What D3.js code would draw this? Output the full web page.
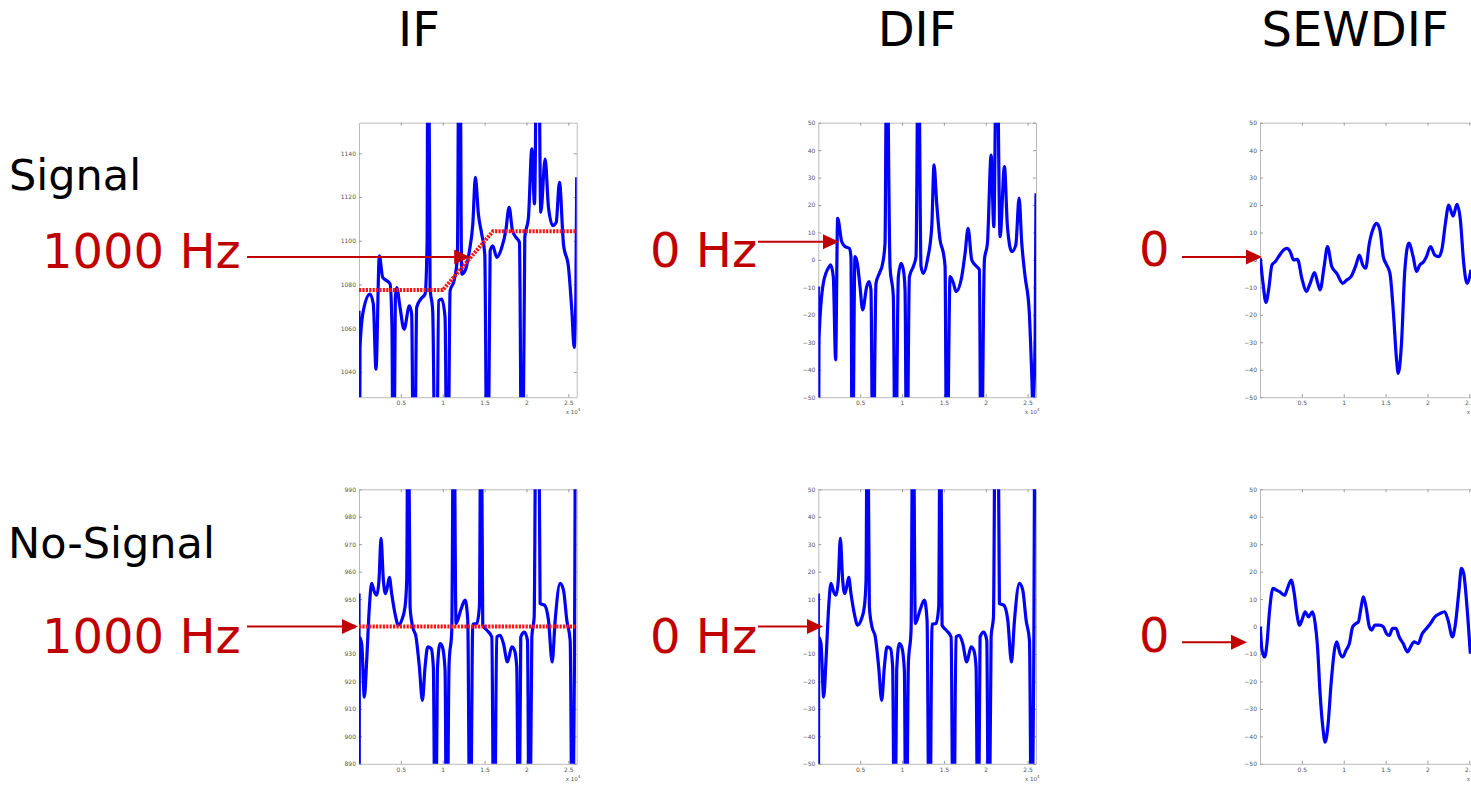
<!DOCTYPE html>
<html><head><meta charset="utf-8">
<script src="https://cdn.jsdelivr.net/npm/d3@7"></script>
<style>
body{margin:0;background:#fff;overflow:hidden;}
svg{display:block;font-family:"DejaVu Sans",Verdana,sans-serif;}
</style></head><body>
<svg id="chart" width="1471" height="789"></svg>
<script>
// ---------------- data (x in units of 10^4 samples) ----------------
const colTitles = ["IF", "DIF", "SEWDIF"];
const rowLabels = ["Signal", "No-Signal"];

const xDomain = [0, 2.6];
const xTickValues = [0.5, 1, 1.5, 2, 2.5];
const ifSignalDomain = [1028.4, 1154];
const ifSignalTicks = [1040, 1060, 1080, 1100, 1120, 1140];
const ifNoSignalDomain = [890, 990];
const ifNoSignalTicks = [890, 900, 910, 920, 930, 940, 950, 960, 970, 980, 990];
const difDomain = [-50, 50];
const difTicks = [-50, -40, -30, -20, -10, 0, 10, 20, 30, 40, 50];

const ifSignal = [[0,1068],[0.004,950],[0.012,1051],[0.052,1068],[0.131,1075.6],[0.171,1071],[0.203,1041.2],[0.243,1093.1],[0.283,1083.2],[0.331,1081.7],[0.371,1080.2],[0.394,1060.3],[0.410,950],[0.434,1074],[0.450,1078.6],[0.490,1069.5],[0.538,1059.5],[0.602,1070.2],[0.629,1066.4],[0.657,950],[0.689,1069.5],[0.737,1073.3],[0.789,1075.6],[0.813,1098.5],[0.825,1250],[0.849,1078.6],[0.880,1068],[0.920,950],[0.952,1072.5],[0.988,1073.3],[1.028,1064.9],[1.056,950],[1.088,1077.1],[1.135,1081.7],[1.175,1092.4],[1.199,1250],[1.227,1084.7],[1.267,1086.3],[1.319,1095.4],[1.359,1107.6],[1.390,1129],[1.426,1112.2],[1.466,1103],[1.502,1093.9],[1.534,950],[1.566,1095.4],[1.598,1097.7],[1.645,1092.4],[1.705,1096.9],[1.753,1104.6],[1.793,1115.3],[1.833,1104.6],[1.876,1101.5],[1.916,1099.2],[1.948,950],[1.980,1101.5],[2.024,1110.7],[2.064,1142],[2.096,1116.8],[2.135,1250],[2.171,1113],[2.223,1137.4],[2.263,1115.3],[2.315,1106.9],[2.355,1108.4],[2.394,1126.7],[2.442,1098.5],[2.502,1087.8],[2.542,1068],[2.570,1051.1],[2.590,1074],[2.600,1129]];

const refSignal = [[0,1077.4],[1.0,1077.4],[1.6,1104.3],[2.6,1104.3]];

const difSignal = [[0,-9.7],[0.003,-90],[0.008,-29.1],[0.060,-8.5],[0.131,-2.4],[0.147,-1.8],[0.179,-6.1],[0.207,-36.4],[0.231,15.2],[0.279,6.7],[0.319,4.9],[0.371,4.2],[0.390,1.2],[0.406,-90],[0.438,1.2],[0.466,-1.2],[0.498,-9.7],[0.530,-18.2],[0.578,-9.7],[0.606,-7.9],[0.629,-10.9],[0.653,-90],[0.689,-8.5],[0.729,-4.9],[0.769,-1.2],[0.797,6.1],[0.817,90],[0.857,-2.4],[0.896,-13.3],[0.920,-90],[0.956,-6.1],[0.988,-1.2],[1.016,-3.6],[1.036,-10.9],[1.056,-90],[1.088,-6.1],[1.135,-2.4],[1.167,1.2],[1.195,90],[1.227,-2.4],[1.255,-4.9],[1.303,0],[1.355,12.1],[1.382,34.6],[1.414,20.6],[1.454,7.3],[1.494,2.4],[1.514,-2.4],[1.534,-90],[1.574,-6.1],[1.614,-8.5],[1.645,-11.5],[1.713,-6.1],[1.753,2.4],[1.789,11.5],[1.833,0],[1.892,-2.4],[1.924,-3.6],[1.944,-90],[1.984,0],[2.020,6.1],[2.064,38.2],[2.096,12.1],[2.131,90],[2.171,8.5],[2.223,34],[2.259,12.1],[2.311,3],[2.359,5.5],[2.398,22.5],[2.430,6.1],[2.470,-6.1],[2.518,-18.2],[2.550,-42.5],[2.562,-53],[2.590,-28.2],[2.600,24.3]];

const sewdifSignal = [[0.004,0.6],[0.036,-8.5],[0.071,-15.5],[0.103,-10.9],[0.143,-1.8],[0.183,-0.6],[0.222,1.2],[0.282,3.6],[0.321,4.2],[0.361,3],[0.401,0],[0.448,0.2],[0.5,-6.7],[0.552,-11.5],[0.599,-8.5],[0.651,-4.6],[0.690,-8.5],[0.718,-10.9],[0.766,-2.4],[0.806,4.9],[0.857,-2.4],[0.917,-4.9],[0.988,-8.5],[1.036,-7.3],[1.087,-6.1],[1.147,-1.8],[1.187,1.8],[1.226,-1.8],[1.262,-3],[1.306,6.1],[1.353,11.5],[1.393,13.3],[1.433,10.9],[1.472,1.2],[1.512,-1.8],[1.552,-4.9],[1.591,-18.2],[1.631,-36.4],[1.651,-41.3],[1.690,-30.3],[1.730,-3.6],[1.778,6.1],[1.829,1.2],[1.869,-4.2],[1.909,-1.8],[1.956,-0.6],[1.988,1.2],[2.036,4.9],[2.087,1.8],[2.135,1.2],[2.175,4.2],[2.214,13.3],[2.254,20],[2.306,16],[2.353,20.3],[2.393,14.6],[2.433,-1.2],[2.472,-8.5],[2.520,-3.6]];

const ifNoSignal = [[0,952],[0.002,840],[0.004,936.2],[0.032,933.8],[0.064,914.3],[0.092,927.7],[0.124,947.2],[0.151,955.7],[0.183,952.7],[0.211,951.4],[0.239,956.9],[0.263,972.1],[0.291,956.9],[0.315,952],[0.339,954.5],[0.363,957.9],[0.390,952],[0.430,944.7],[0.470,940.5],[0.510,942.3],[0.550,947.2],[0.570,956.9],[0.586,1040],[0.610,947.2],[0.641,939.9],[0.681,936.2],[0.721,925.3],[0.757,913.1],[0.789,925.3],[0.821,932.6],[0.861,932],[0.888,925.3],[0.912,840],[0.936,924.1],[0.968,933.8],[0.996,932.6],[1.028,924.1],[1.048,840],[1.076,926.5],[1.108,938.7],[1.131,1040],[1.159,941.1],[1.215,946],[1.267,949.6],[1.299,942.3],[1.327,840],[1.359,940.9],[1.406,941.1],[1.438,947.2],[1.458,1040],[1.478,940.5],[1.526,938.7],[1.586,936.2],[1.614,840],[1.645,936.2],[1.685,936.8],[1.725,933.8],[1.773,927.1],[1.825,932.6],[1.857,931.4],[1.884,925.3],[1.908,840],[1.932,936.2],[1.976,938],[2.012,935],[2.036,840],[2.064,936.2],[2.092,943.5],[2.116,1040],[2.143,1040],[2.163,948.4],[2.215,947.8],[2.263,942.3],[2.307,927.1],[2.343,942.3],[2.402,955.7],[2.442,953.3],[2.482,942.3],[2.522,935],[2.550,840],[2.574,932.6],[2.590,1040],[2.600,1040]];

const refNoSignal = [[0,940],[2.6,940]];

const difNoSignal = [[0,12],[0.002,-100],[0.004,-3.8],[0.032,-6.2],[0.064,-25.7],[0.092,-12.3],[0.124,7.2],[0.151,15.7],[0.183,12.7],[0.211,11.4],[0.239,16.9],[0.263,32.1],[0.291,16.9],[0.315,12],[0.339,14.5],[0.363,17.9],[0.390,12],[0.430,4.7],[0.470,0.5],[0.510,2.3],[0.550,7.2],[0.570,16.9],[0.586,100],[0.610,7.2],[0.641,-0.1],[0.681,-3.8],[0.721,-14.7],[0.757,-26.9],[0.789,-14.7],[0.821,-7.4],[0.861,-8],[0.888,-14.7],[0.912,-100],[0.936,-15.9],[0.968,-6.2],[0.996,-7.4],[1.028,-15.9],[1.048,-100],[1.076,-13.5],[1.108,-1.3],[1.131,100],[1.159,1.1],[1.215,6],[1.267,9.6],[1.299,2.3],[1.327,-100],[1.359,0.9],[1.406,1.1],[1.438,7.2],[1.458,100],[1.478,0.5],[1.526,-1.3],[1.586,-3.8],[1.614,-100],[1.645,-3.8],[1.685,-3.2],[1.725,-6.2],[1.773,-12.9],[1.825,-7.4],[1.857,-8.6],[1.884,-14.7],[1.908,-100],[1.932,-3.8],[1.976,-2],[2.012,-5],[2.036,-100],[2.064,-3.8],[2.092,3.5],[2.116,100],[2.143,100],[2.163,8.4],[2.215,7.8],[2.263,2.3],[2.307,-12.9],[2.343,2.3],[2.402,15.7],[2.442,13.3],[2.482,2.3],[2.522,-5],[2.550,-100],[2.574,-7.4],[2.590,100],[2.600,100]];

const sewdifNoSignal = [[0.004,-0.1],[0.024,-8.6],[0.056,-11.1],[0.083,-6.2],[0.115,6],[0.155,13.9],[0.194,13.3],[0.234,12.7],[0.294,11.4],[0.321,13.3],[0.373,16.9],[0.409,12],[0.440,4.7],[0.472,0.5],[0.5,2.3],[0.540,5.4],[0.579,3.5],[0.627,5.4],[0.659,1.1],[0.687,-7.4],[0.718,-24.5],[0.750,-36.6],[0.778,-42.1],[0.810,-36.6],[0.849,-20.8],[0.889,-8.6],[0.917,-5.6],[0.956,-9.9],[0.988,-11.1],[1.028,-8.6],[1.067,-6.2],[1.107,-0.1],[1.147,1.1],[1.175,1.7],[1.202,6],[1.234,10.8],[1.266,7.2],[1.306,-0.1],[1.333,-1.3],[1.373,0.5],[1.425,0.5],[1.472,-0.1],[1.512,-2.6],[1.544,-3.2],[1.583,-0.7],[1.623,-0.7],[1.663,-3.8],[1.710,-6.2],[1.762,-9.2],[1.798,-7.4],[1.841,-5.6],[1.889,-6.2],[1.937,-2.6],[1.988,-0.7],[2.036,1.1],[2.087,3.5],[2.147,4.7],[2.206,5.4],[2.246,2.3],[2.298,-3.8],[2.329,-0.1],[2.377,13.3],[2.405,21.2],[2.433,19.3],[2.472,7.2],[2.512,-9.9]];

// annotation labels and the data point each red arrow points at
const annLabels = ["1000 Hz", "0 Hz", "0", "1000 Hz", "0 Hz", "0"];
const annTips = [[1.328,1092.5],[0.247,6.6],[0.024,1.1],[-0.012,940],[0.056,0],[-0.155,-5.7]];

// ---------------- layout ----------------
const colX = [359, 818.3, 1260];
const rowY = [122.7, 489.3];
const PW = 217.7, PH = 274.5;
const titleX = [419, 917, 1355];
const titleY = 46;
const rowLabelPos = [[9,190],[8,558]];
const annTextPos = [[42,268],[650,267],[1139,266],[42,653],[650,653],[1139,652]];
const annStartX = [247, 758, 1182, 247, 758, 1182];
const RED = "#c00000";

const panels = [
  {row:0,col:0,data:ifSignal,ref:refSignal,domain:ifSignalDomain,ticks:ifSignalTicks},
  {row:0,col:1,data:difSignal,domain:difDomain,ticks:difTicks},
  {row:0,col:2,data:sewdifSignal,domain:difDomain,ticks:difTicks},
  {row:1,col:0,data:ifNoSignal,ref:refNoSignal,domain:ifNoSignalDomain,ticks:ifNoSignalTicks},
  {row:1,col:1,data:difNoSignal,domain:difDomain,ticks:difTicks},
  {row:1,col:2,data:sewdifNoSignal,domain:difDomain,ticks:difTicks}
];

const svg = d3.select("#chart");
const defs = svg.append("defs");

// titles
svg.selectAll("text.title").data(colTitles).join("text")
  .attr("class","title")
  .attr("x",(d,i)=>titleX[i]).attr("y",titleY)
  .attr("text-anchor","middle").attr("font-size",48).attr("fill","#000")
  .text(d=>d);

svg.selectAll("text.rowlab").data(rowLabels).join("text")
  .attr("class","rowlab")
  .attr("x",(d,i)=>rowLabelPos[i][0]).attr("y",(d,i)=>rowLabelPos[i][1])
  .attr("font-size",43).attr("fill","#000")
  .text(d=>d);

const plain = d3.format("");
const scales = [];
panels.forEach((p,i)=>{
  const x0 = colX[p.col], y0 = rowY[p.row];
  const x = d3.scaleLinear().domain(xDomain).range([x0, x0+PW]);
  const y = d3.scaleLinear().domain(p.domain).range([y0+PH, y0]);
  scales.push({x,y});
  const g = svg.append("g");

  defs.append("clipPath").attr("id","clip"+i)
    .append("rect").attr("x",x0).attr("y",y0).attr("width",PW).attr("height",PH);

  const tickFont = g2 => {
    g2.selectAll("text").attr("font-size",6).attr("fill","#555").attr("font-family","DejaVu Sans, sans-serif");
    g2.selectAll("line").attr("stroke","#999");
    g2.select(".domain").attr("stroke","#bbb");
  };

  g.append("g").attr("transform",`translate(0,${y0+PH})`)
    .call(d3.axisBottom(x).tickValues(xTickValues).tickSizeInner(-3).tickSizeOuter(0).tickPadding(4).tickFormat(plain))
    .call(tickFont);
  g.append("g").attr("transform",`translate(0,${y0})`)
    .call(d3.axisTop(x).tickValues(xTickValues).tickSizeInner(-3).tickSizeOuter(0).tickFormat(""))
    .call(tickFont);
  g.append("g").attr("transform",`translate(${x0},0)`)
    .call(d3.axisLeft(y).tickValues(p.ticks).tickSizeInner(-3).tickSizeOuter(0).tickPadding(3).tickFormat(plain))
    .call(tickFont);
  g.append("g").attr("transform",`translate(${x0+PW},0)`)
    .call(d3.axisRight(y).tickValues(p.ticks).tickSizeInner(-3).tickSizeOuter(0).tickFormat(""))
    .call(tickFont);

  // x 10^4 label
  const lab = g.append("text").attr("x",x0+PW-11).attr("y",y0+PH+17)
    .attr("font-size",5.5).attr("fill","#555");
  lab.append("tspan").text("x 10");
  lab.append("tspan").attr("dy",-3).attr("font-size",4).text("4");

  const line = d3.line().x(d=>x(d[0])).y(d=>y(d[1])).curve(d3.curveMonotoneX);
  g.append("path").datum(p.data)
    .attr("clip-path",`url(#clip${i})`)
    .attr("fill","none").attr("stroke","#0000ff").attr("stroke-width",3.2)
    .attr("stroke-linejoin","round")
    .attr("d",line);

  if (p.ref) {
    g.append("path").datum(p.ref)
      .attr("clip-path",`url(#clip${i})`)
      .attr("fill","none").attr("stroke","#ff1414").attr("stroke-width",4)
      .attr("stroke-dasharray","2.2,1.2")
      .attr("d",d3.line().x(d=>x(d[0])).y(d=>y(d[1])));
  }
});

// annotations
annLabels.forEach((t,i)=>{
  const s = scales[i];
  const tx = s.x(annTips[i][0]), ty = s.y(annTips[i][1]);
  svg.append("text").attr("x",annTextPos[i][0]).attr("y",annTextPos[i][1])
    .attr("font-size",48).attr("fill",RED).text(t);
  svg.append("line").attr("x1",annStartX[i]).attr("x2",tx-14).attr("y1",ty).attr("y2",ty)
    .attr("stroke",RED).attr("stroke-width",2);
  svg.append("path")
    .attr("d",`M${tx},${ty} L${tx-16},${ty-7.5} L${tx-16},${ty+7.5} Z`)
    .attr("fill",RED);
});
</script>
</body></html>
